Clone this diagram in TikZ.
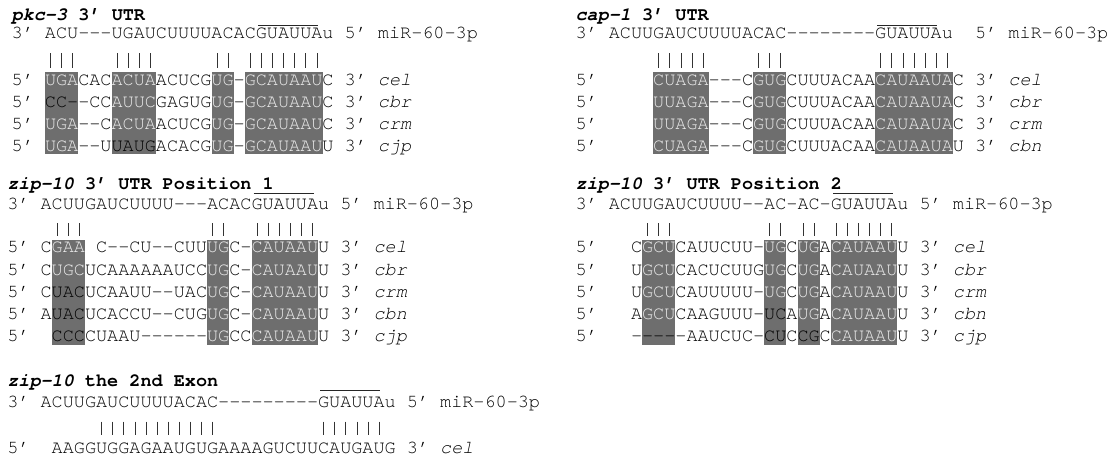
\documentclass[tikz,border=0pt]{standalone}
\usepackage{fontspec}
\newfontfamily\mono{TeX Gyre Cursor}[Ligatures=TeXOff]
\definecolor{boxgray}{HTML}{6E6E6E}
\definecolor{boxtxt}{HTML}{EEEEEE}
\newcommand\W[1]{\textcolor{boxtxt}{#1}}
\tikzset{
 txt/.style={anchor=base west, inner sep=0pt, outer sep=0pt, font=\mono\fontsize{18.5}{20}\selectfont},
 ttl/.style={anchor=base west, inner sep=0pt, outer sep=0pt, font=\mono\bfseries\fontsize{18.5}{20}\selectfont},
 shade/.style={fill=boxgray},
 pair/.style={line width=0.9pt, draw=black!80},
 seed/.style={line width=1pt, draw=black!85},
 cols/.style={x=11.1pt, y=-1pt}
}
\begin{document}
\begin{tikzpicture}[x=1pt,y=-1pt]
\useasboundingbox (0,0) rectangle (1114,455);
% ---------------- Panel A: pkc-3
\begin{scope}[xshift=11.7pt, cols]
\foreach \a/\b in {3/5,9/12,18/19,21/27} \fill[shade] (\a,72.3) rectangle (\b+1,154.4);
\foreach \i in {3,4,5,9,10,11,12,18,19,21,22,...,27} \draw[pair] (\i+.5,53) -- (\i+.5,68);
\draw[seed] (22.2,25) -- (27.6,25);
\node[ttl] (aT) at (0,20) {\textit{pkc-3}~3’~UTR};
\node[txt] (aM) at (0,38.5) {3’~ACU---UGAUCUUUUACACGUAUUAu~5’~miR-60-3p};
\node[txt] (a1) at (0,85) {5’~\W{UGA}CAC\W{ACUA}ACUCG\W{UG}-\W{GCAUAAU}C~3’~\textit{cel}};
\node[txt] (a2) at (0,107.3) {5’~CC--CC\W{AUUC}GAGUG\W{UG}-\W{GCAUAAU}C~3’~\textit{cbr}};
\node[txt] (a3) at (0,129.6) {5’~\W{UGA}--C\W{ACUA}ACUCG\W{UG}-\W{GCAUAAU}C~3’~\textit{crm}};
\node[txt] (a4) at (0,151.9) {5’~\W{UGA}--UUAUGACACG\W{UG}-\W{GCAUAAU}U~3’~\textit{cjp}};
\end{scope}
% ---------------- Panel B: cap-1
\begin{scope}[xshift=575.5pt, cols]
\foreach \a/\b in {7/11,16/18,27/33} \fill[shade] (\a,72.3) rectangle (\b+1,154.4);
\foreach \i in {7,...,11,16,17,18,27,28,...,33} \draw[pair] (\i+.5,53) -- (\i+.5,68);
\draw[seed] (27.2,25) -- (32.6,25);
\node[ttl] (bT) at (0,20) {\textit{cap-1}~3’~UTR};
\node[txt] (bM) at (0,38.5) {3’~ACUUGAUCUUUUACAC--------GUAUUAu~~5’~miR-60-3p};
\node[txt] (b1) at (0,85) {5’~~~~~\W{CUAGA}---C\W{GUG}CUUUACAA\W{CAUAAUA}C~3’~\textit{cel}};
\node[txt] (b2) at (0,107.3) {5’~~~~~\W{UUAGA}---C\W{GUG}CUUUACAA\W{CAUAAUA}C~3’~\textit{cbr}};
\node[txt] (b3) at (0,129.6) {5’~~~~~\W{UUAGA}---C\W{GUG}CUUUACAA\W{CAUAAUA}C~3’~\textit{crm}};
\node[txt] (b4) at (0,151.9) {5’~~~~~\W{CUAGA}---C\W{GUG}CUUUACAA\W{CAUAAUA}U~3’~\textit{cbn}};
\end{scope}
% ---------------- Panel C: zip-10 position 1
\begin{scope}[xshift=7.3pt, cols]
\foreach \a/\b in {4/6,18/19,22/27} \fill[shade] (\a,240) rectangle (\b+1,345);
\foreach \i in {4,5,6,18,19,22,23,...,27} \draw[pair] (\i+.5,223) -- (\i+.5,236);
\draw[seed] (22.2,193.3) -- (27.6,193.3);
\node[ttl] (cT) at (0,189.3) {\textit{zip-10}~3’~UTR~Position~1};
\node[txt] (cM) at (0,209.3) {3’~ACUUGAUCUUUU---ACACGUAUUAu~5’~miR-60-3p};
\node[txt] (c1) at (0,252.7) {5’~C\W{GAA}~C--CU--CUU\W{UG}C-\W{CAUAAU}U~3’~\textit{cel}};
\node[txt] (c2) at (0,275) {5’~C\W{UGC}UCAAAAAAUCC\W{UG}C-\W{CAUAAU}U~3’~\textit{cbr}};
\node[txt] (c3) at (0,297.3) {5’~CUACUCAAUU--UAC\W{UG}C-\W{CAUAAU}U~3’~\textit{crm}};
\node[txt] (c4) at (0,319.6) {5’~AUACUCACCU--CUG\W{UG}C-\W{CAUAAU}U~3’~\textit{cbn}};
\node[txt] (c5) at (0,341.9) {5’~~CCCCUAAU------\W{UG}CC\W{CAUAAU}U~3’~\textit{cjp}};
\end{scope}
% ---------------- Panel D: zip-10 position 2
\begin{scope}[xshift=575.5pt, cols]
\foreach \a/\b in {6/8,17/18,20/21,23/28} \fill[shade] (\a,240) rectangle (\b+1,345);
\foreach \i in {6,7,8,17,18,20,21,23,24,...,28} \draw[pair] (\i+.5,223) -- (\i+.5,236);
\draw[seed] (23.2,193.3) -- (28.6,193.3);
\node[ttl] (dT) at (0,189.3) {\textit{zip-10}~3’~UTR~Position~2};
\node[txt] (dM) at (0,209.3) {3’~ACUUGAUCUUUU--AC-AC-GUAUUAu~5’~miR-60-3p};
\node[txt] (d1) at (0,252.7) {5’~~~C\W{GCU}CAUUCUU-\W{UG}C\W{UG}A\W{CAUAAU}U~3’~\textit{cel}};
\node[txt] (d2) at (0,275) {5’~~~U\W{GCU}CACUCUUG\W{UG}C\W{UG}A\W{CAUAAU}U~3’~\textit{cbr}};
\node[txt] (d3) at (0,297.3) {5’~~~U\W{GCU}CAUUUUU-\W{UG}C\W{UG}A\W{CAUAAU}U~3’~\textit{crm}};
\node[txt] (d4) at (0,319.6) {5’~~~A\W{GCU}CAAGUUU-UCA\W{UG}A\W{CAUAAU}U~3’~\textit{cbn}};
\node[txt] (d5) at (0,341.9) {5’~~~-----AAUCUC-CUCCGC\W{CAUAAU}U~3’~\textit{cjp}};
\end{scope}
% ---------------- Panel E: zip-10 2nd exon
\begin{scope}[xshift=7.3pt, cols]
\foreach \i in {8,9,...,18,28,29,...,33} \draw[pair] (\i+.5,421.7) -- (\i+.5,435);
\draw[seed] (28.2,390) -- (33.6,390);
\node[ttl] (eT) at (0,386.7) {\textit{zip-10}~the~2nd~Exon};
\node[txt] (eM) at (0,407) {3’~ACUUGAUCUUUUACAC---------GUAUUAu~5’~miR-60-3p};
\node[txt] (e1) at (0,453.3) {5’~~AAGGUGGAGAAUGUGAAAAGUCUUCAUGAUG~3’~\textit{cel}};
\end{scope}
\end{tikzpicture}
\end{document}
